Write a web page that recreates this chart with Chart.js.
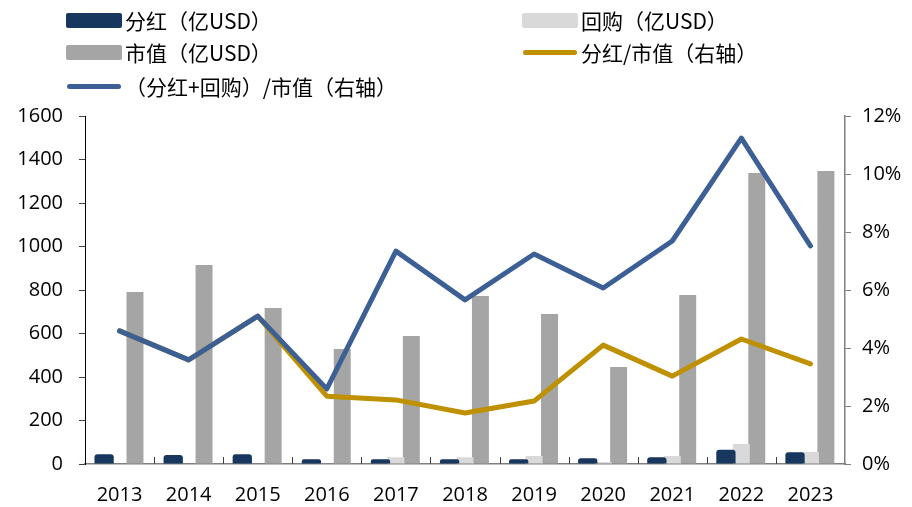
<!DOCTYPE html>
<html lang="zh">
<head>
  <meta charset="UTF-8" />
  <title>分红与回购</title>
  <style>
    body { margin: 0; background: #fff; }
    #wrap { position: relative; width: 912px; height: 507px; }
    #chart { position: absolute; left: 0; top: 0; }
    .legend-item {
      position: absolute;
      display: flex;
      align-items: center;
      font-family: "Noto Sans CJK SC", sans-serif;
      font-size: 21px;
      color: #000;
      white-space: nowrap;
      height: 30px;
    }
    .swatch { display: inline-block; margin-right: 3px; }
    .box { width: 56px; height: 15px; border-radius: 2px; }
    .line { width: 54px; height: 5px; border-radius: 3px; margin-left: 1px; margin-right: 4px; }
  </style>
</head>
<body>
  <div id="wrap">
    <canvas id="chart" width="912" height="507"></canvas>
    <div class="legend-item" style="left:66px; top:5px;"><span class="swatch box" style="background:#17375e"></span>分红（亿USD）</div>
    <div class="legend-item" style="left:522px; top:5px;"><span class="swatch box" style="background:#d9d9d9"></span>回购（亿USD）</div>
    <div class="legend-item" style="left:66px; top:37px;"><span class="swatch box" style="background:#a5a5a5"></span>市值（亿USD）</div>
    <div class="legend-item" style="left:522px; top:37px;"><span class="swatch line" style="background:#bf9000"></span>分红/市值（右轴）</div>
    <div class="legend-item" style="left:66px; top:71px;"><span class="swatch line" style="background:#3c6096"></span>（分红+回购）/市值（右轴）</div>
  </div>

  <script src="https://cdn.jsdelivr.net/npm/chart.js"></script>
  <script>
    const years = ['2013', '2014', '2015', '2016', '2017', '2018', '2019', '2020', '2021', '2022', '2023'];
    const dividends = [45, 41, 45, 22, 22, 22, 22, 26, 31, 65, 54];
    const buybacks = [0, 0, 0, 2, 31, 31, 37, 9, 37, 92, 55];
    const marketCap = [791, 915, 717, 529, 589, 772, 690, 446, 777, 1338, 1347];
    const divYield = [4.59, 3.59, 5.10, 2.34, 2.21, 1.76, 2.17, 4.10, 3.03, 4.31, 3.45];
    const totalYield = [4.59, 3.59, 5.10, 2.59, 7.34, 5.66, 7.24, 6.07, 7.69, 11.24, 7.52];

    const tickFont = { family: '"Open Sans", sans-serif', size: 20 };

    // small upward tick marks between categories on the x axis
    const innerTicks = {
      id: 'innerTicks',
      afterDatasetsDraw(chart) {
        const { ctx, chartArea } = chart;
        const step = (chartArea.right - chartArea.left) / years.length;
        ctx.save();
        ctx.strokeStyle = '#404040';
        ctx.lineWidth = 1;
        for (let i = 1; i < years.length; i++) {
          const px = Math.round(chartArea.left + i * step) + 0.5;
          ctx.beginPath();
          ctx.moveTo(px, chartArea.bottom);
          ctx.lineTo(px, chartArea.bottom - 7);
          ctx.stroke();
        }
        ctx.restore();
      }
    };

    new Chart(document.getElementById('chart'), {
      data: {
        labels: years,
        datasets: [
          {
            type: 'bar', label: '分红（亿USD）', data: dividends,
            backgroundColor: '#17375e', borderRadius: 3, yAxisID: 'y', order: 3,
            categoryPercentage: 0.67, barPercentage: 1.25
          },
          {
            type: 'bar', label: '回购（亿USD）', data: buybacks,
            backgroundColor: '#d9d9d9', yAxisID: 'y', order: 3,
            categoryPercentage: 0.67, barPercentage: 1.1
          },
          {
            type: 'bar', label: '市值（亿USD）', data: marketCap,
            backgroundColor: '#a5a5a5', yAxisID: 'y', order: 3,
            categoryPercentage: 0.67, barPercentage: 1.1
          },
          {
            type: 'line', label: '分红/市值（右轴）', data: divYield,
            borderColor: '#bf9000', borderWidth: 5, pointRadius: 0, tension: 0,
            yAxisID: 'y1', order: 1, borderCapStyle: 'round', borderJoinStyle: 'round'
          },
          {
            type: 'line', label: '（分红+回购）/市值（右轴）', data: totalYield,
            borderColor: '#3c6096', borderWidth: 5, pointRadius: 0, tension: 0,
            yAxisID: 'y1', order: 0, borderCapStyle: 'round', borderJoinStyle: 'round'
          }
        ]
      },
      options: {
        responsive: false,
        animation: false,
        layout: { padding: { top: 116, bottom: 0, left: 0, right: 0 } },
        plugins: { legend: { display: false }, tooltip: { enabled: false } },
        scales: {
          x: {
            offset: true,
            grid: { display: false },
            border: { color: '#7f7f7f', width: 1.5 },
            ticks: { color: '#000', font: tickFont, padding: 11, maxRotation: 0 },
            afterFit(scale) { scale.height = 43; }
          },
          y: {
            position: 'left',
            min: 0, max: 1600,
            grid: { drawOnChartArea: false, tickLength: 6, color: '#404040' },
            border: { color: '#000', width: 1 },
            ticks: { stepSize: 200, color: '#000', font: tickFont, padding: 16, callback: v => String(v) },
            afterFit(scale) { scale.width = 85; }
          },
          y1: {
            position: 'right',
            min: 0, max: 12,
            grid: { drawOnChartArea: false, tickLength: 6, color: '#7f7f7f' },
            border: { color: '#7f7f7f', width: 1.5 },
            ticks: { stepSize: 2, color: '#000', font: tickFont, padding: 11, callback: v => v + '%' },
            afterFit(scale) { scale.width = 67; }
          }
        }
      },
      plugins: [innerTicks]
    });
  </script>
</body>
</html>
